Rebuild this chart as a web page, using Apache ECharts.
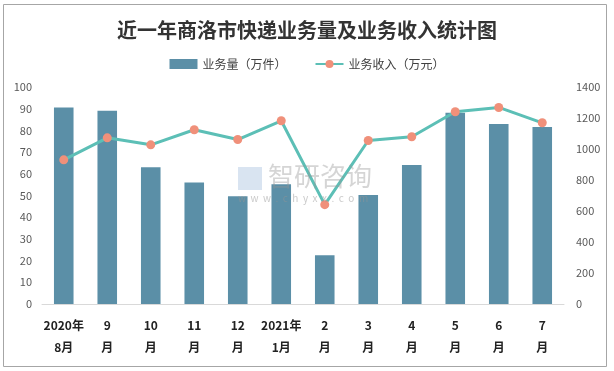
<!DOCTYPE html>
<html><head><meta charset="utf-8">
<script src="https://cdn.jsdelivr.net/npm/echarts@6/dist/echarts.min.js"></script>
<style>html,body{margin:0;padding:0;background:#fff}#c{width:614px;height:371px}</style>
</head><body><div id="c"></div>
<script>
const categories = ['2020年\n8月','9\n月','10\n月','11\n月','12\n月','2021年\n1月','2\n月','3\n月','4\n月','5\n月','6\n月','7\n月'];
const volume = [90.5, 89, 63, 56, 49.7, 55.2, 22.5, 50.2, 64, 88.1, 83, 81.6];
const revenue = [930, 1072, 1027, 1124, 1061, 1182, 641, 1055, 1079, 1240, 1268, 1169];
const seriesNames = ['业务量（万件）', '业务收入（万元）'];
const titleText = '近一年商洛市快递业务量及业务收入统计图';

const chart = echarts.init(document.getElementById('c'));
const font = '"Noto Sans CJK SC", "Noto Sans", sans-serif';
chart.setOption({
  animation: false,
  textStyle: {fontFamily: font},
  title: {text: titleText, left: 'center', top: 15,
    textStyle: {fontSize: 20, fontWeight: 'bold', color: '#333', fontFamily: '"Noto Sans CJK SC", serif'}},
  legend: {top: 53, left: 'center', itemGap: 28, itemWidth: 28, itemHeight: 10,
    textStyle: {fontSize: 12, color: '#404040'},
    data: [{name: seriesNames[0], icon: 'rect'}, {name: seriesNames[1]}]},
  grid: {left: 42, right: 50, top: 87, bottom: 67, containLabel: false},
  xAxis: {type: 'category', data: categories,
    axisLine: {lineStyle: {color: '#d9d9d9'}}, axisTick: {show: false},
    axisLabel: {interval: 0, fontSize: 12, fontWeight: 'bold', color: '#222', lineHeight: 22, margin: 10}},
  yAxis: [
    {type: 'value', min: 0, max: 100, interval: 10, splitLine: {show: false},
     axisLabel: {fontSize: 11, color: '#595959', margin: 10}},
    {type: 'value', min: 0, max: 1400, interval: 200, splitLine: {show: false},
     axisLabel: {fontSize: 11, color: '#595959', margin: 12, formatter: v => String(v)}}
  ],
  graphic: [
    {type: 'rect', shape: {x: 3.5, y: 4.5, width: 603, height: 362}, style: {fill: 'none', stroke: '#a6a6a6', lineWidth: 1}, silent: true},
    {type: 'text', left: 268, top: 163, style: {text: '智研咨询', fontSize: 26, fill: 'rgba(150,150,150,0.4)', fontFamily: font}, z: 10},
    {type: 'text', left: 238, top: 193, style: {text: 'w  w  w  .  c  h  y  x  x  .  c  o  m', fontSize: 10, fill: 'rgba(150,150,150,0.5)', fontFamily: font}, z: 10},
    {type: 'rect', shape: {x: 238, y: 167, width: 24, height: 23}, style: {fill: 'rgba(170,195,225,0.45)'}, z: 10}
  ],
  series: [
    {name: seriesNames[0], type: 'bar', data: volume, barWidth: '45%', yAxisIndex: 0,
     itemStyle: {color: '#5b8fa7'}},
    {name: seriesNames[1], type: 'line', data: revenue, yAxisIndex: 1,
     symbol: 'circle', symbolSize: 9,
     lineStyle: {color: '#5cbfb6', width: 3},
     itemStyle: {color: '#f0907a'}}
  ]
});
</script></body></html>
